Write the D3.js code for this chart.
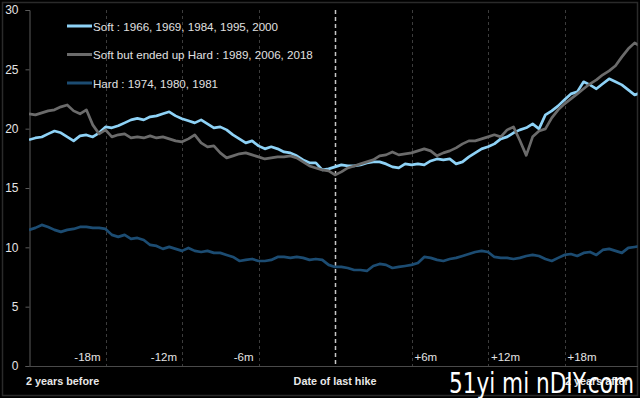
<!DOCTYPE html>
<html>
<head>
<meta charset="utf-8">
<script src="https://cdn.jsdelivr.net/npm/d3@7"></script>
<style>
html,body{margin:0;padding:0;background:#000;}
svg{display:block;}
</style>
</head>
<body>
<svg id="chart" width="640" height="398"></svg>
<script>
// months relative to the date of the last hike (step of half a month)
const months = d3.range(-24, 24.001, 0.5);

const softValues = [
19.06,19.22,19.30,19.56,19.80,19.65,19.30,18.97,19.39,19.47,19.30,19.65,20.15,20.07,20.24,20.49,
20.74,20.87,20.74,21.00,21.08,21.25,21.42,21.08,20.83,20.66,20.49,20.74,20.40,20.07,20.15,19.90,
19.48,19.14,18.80,18.97,18.55,18.30,18.47,18.30,18.04,17.96,17.71,17.37,17.12,17.12,16.53,16.61,
16.78,16.95,16.86,16.86,16.95,17.12,17.20,17.20,17.03,16.78,16.69,17.03,16.95,17.03,16.95,17.28,
17.45,17.37,17.45,17.03,17.20,17.62,17.96,18.30,18.47,18.72,19.14,19.31,19.65,19.90,20.07,20.40,
19.98,21.16,21.50,21.92,22.43,22.93,23.10,23.95,23.69,23.36,23.78,24.20,23.95,23.69,23.27,22.85,23.02
];

const softHardValues = [
21.25,21.16,21.33,21.50,21.59,21.84,22.00,21.50,21.25,21.59,20.32,19.56,19.90,19.31,19.48,19.56,
19.22,19.31,19.22,19.39,19.22,19.31,19.14,18.97,18.89,19.14,19.48,18.80,18.47,18.55,17.96,17.54,
17.71,17.88,17.96,17.79,17.62,17.45,17.54,17.62,17.62,17.71,17.54,17.20,16.86,16.69,16.53,16.44,
16.10,16.36,16.69,16.86,17.03,17.20,17.37,17.71,17.79,18.04,17.79,17.88,17.96,18.13,18.30,18.13,
17.71,17.96,18.13,18.38,18.72,18.97,18.97,19.14,19.31,19.48,19.31,19.90,20.15,19.00,17.75,19.31,
19.81,19.98,20.91,21.59,22.09,22.51,22.93,23.36,23.78,24.11,24.54,24.87,25.30,26.05,26.73,27.23,26.90
];

const hardValues = [
11.47,11.64,11.89,11.72,11.47,11.30,11.47,11.55,11.72,11.72,11.64,11.64,11.55,11.05,10.88,11.05,
10.71,10.79,10.62,10.20,10.12,9.87,10.04,9.87,9.70,9.95,9.70,9.61,9.70,9.53,9.53,9.36,
9.19,8.85,8.94,9.02,8.85,8.85,8.94,9.19,9.19,9.11,9.19,9.11,8.94,9.02,8.94,8.52,
8.35,8.35,8.26,8.09,8.09,8.01,8.43,8.60,8.52,8.26,8.35,8.43,8.52,8.68,9.19,9.11,
8.94,8.85,9.02,9.11,9.27,9.44,9.61,9.70,9.61,9.19,9.11,9.11,9.02,9.11,9.27,9.36,
9.27,9.02,8.85,9.11,9.36,9.44,9.27,9.53,9.61,9.36,9.78,9.87,9.70,9.53,9.95,10.03,10.12
];

const seriesNames = ["Soft : 1966, 1969, 1984, 1995, 2000",
                     "Soft but ended up Hard : 1989, 2006, 2018",
                     "Hard : 1974, 1980, 1981"];
const yTicks = [0, 5, 10, 15, 20, 25, 30];
const gridMonths = [-18, -12, -6, 6, 12, 18];
const gridLabels = ["-18m", "-12m", "-6m", "+6m", "+12m", "+18m"];
const bottomLabels = ["2 years before", "Date of last hike", "2 years after"];
const watermark = "51yi mi nDIY.com";

const colors = ["#8ed2f6", "#6b6b6b", "#1c4c72"];

const svg = d3.select("#chart");
const W = 640, H = 398;
svg.append("rect").attr("width", W).attr("height", H).attr("fill", "#000");
svg.append("rect").attr("x", 2.5).attr("y", 2.5).attr("width", 635).attr("height", 393)
   .attr("fill", "none").attr("stroke", "#2a2a2a").attr("stroke-width", 1.5);

const x = d3.scaleLinear().domain([-24, 24]).range([29, 641]);
const y = d3.scaleLinear().domain([0, 30]).range([366, 10]);

svg.append("defs").append("clipPath").attr("id", "clip")
   .append("rect").attr("x", 29).attr("y", 0).attr("width", 608.5).attr("height", 398);

const font = "'Liberation Sans', Arial, sans-serif";

// vertical dashed gridlines
svg.append("g").selectAll("line").data(gridMonths).join("line")
  .attr("x1", d => Math.round(x(d)) + 0.5).attr("x2", d => Math.round(x(d)) + 0.5)
  .attr("y1", y(30)).attr("y2", y(0))
  .attr("stroke", "#3c3c3c").attr("stroke-width", 1).attr("stroke-dasharray", "3,3");

// hike line
svg.append("line")
  .attr("x1", Math.round(x(0)) + 0.5).attr("x2", Math.round(x(0)) + 0.5)
  .attr("y1", y(30)).attr("y2", y(0))
  .attr("stroke", "#c8c8c8").attr("stroke-width", 1.5).attr("stroke-dasharray", "4,3");

// y axis
const yAxis = d3.axisLeft(y).tickValues(yTicks).tickSize(4).tickPadding(7);
const gy = svg.append("g").attr("transform", "translate(29.5,0)").call(yAxis);
gy.select(".domain").attr("stroke", "#5a5a5a");
gy.selectAll(".tick line").attr("stroke", "#5a5a5a");
gy.selectAll(".tick text").attr("fill", "#e4e4e4").attr("font-family", font).attr("font-size", 12);

// x axis line
const xAxis = d3.axisBottom(x).tickValues([]).tickSizeOuter(0);
const gx = svg.append("g").attr("transform", "translate(0," + (y(0) + 0.5) + ")").call(xAxis);
gx.select(".domain").attr("stroke", "#4a4a4a").attr("d", "M29,0H638");

// month labels
svg.append("g").selectAll("text").data(gridMonths).join("text")
  .attr("x", d => d < 0 ? x(d) - 5 : x(d) + 3)
  .attr("y", 361)
  .attr("text-anchor", d => d < 0 ? "end" : "start")
  .attr("fill", "#e4e4e4").attr("font-family", font).attr("font-size", 11.5)
  .text((d, i) => gridLabels[i]);

// lines
const line = d3.line().x(d => x(d[0])).y(d => y(d[1]));
const all = [softValues, softHardValues, hardValues];
const drawOrder = [2, 0, 1];
const gl = svg.append("g").attr("clip-path", "url(#clip)");
drawOrder.forEach(i => {
  gl.append("path")
    .datum(months.map((m, j) => [m, all[i][j]]))
    .attr("d", line)
    .attr("fill", "none").attr("stroke", colors[i])
    .attr("stroke-width", 2.7).attr("stroke-linejoin", "round");
});

// legend
const lg = svg.append("g");
seriesNames.forEach((name, i) => {
  const ly = 26 + i * 28.5;
  lg.append("line").attr("x1", 67).attr("x2", 92).attr("y1", ly).attr("y2", ly)
    .attr("stroke", colors[i]).attr("stroke-width", 3);
  lg.append("text").attr("x", 93).attr("y", ly + 4.5)
    .attr("fill", "#e0e0e0").attr("font-family", font).attr("font-size", 11.6)
    .text(name);
});

// bottom labels
const bl = svg.append("g").attr("font-family", font).attr("font-weight", "bold")
  .attr("font-size", 10.8).attr("fill", "#e8e8e8");
bl.append("text").attr("x", 26).attr("y", 385).text(bottomLabels[0]);
bl.append("text").attr("x", x(0)).attr("y", 385).attr("text-anchor", "middle").text(bottomLabels[1]);
bl.append("text").attr("x", 565).attr("y", 385).text(bottomLabels[2]);

// watermark
svg.append("text").attr("x", 449).attr("y", 393)
  .attr("font-family", "'Liberation Sans Narrow', 'Arial Narrow', 'DejaVu Sans Condensed', sans-serif")
  .attr("font-size", 29).attr("fill", "#ffffff")
  .attr("textLength", 185).attr("lengthAdjust", "spacingAndGlyphs")
  .text(watermark);
</script>
</body>
</html>
